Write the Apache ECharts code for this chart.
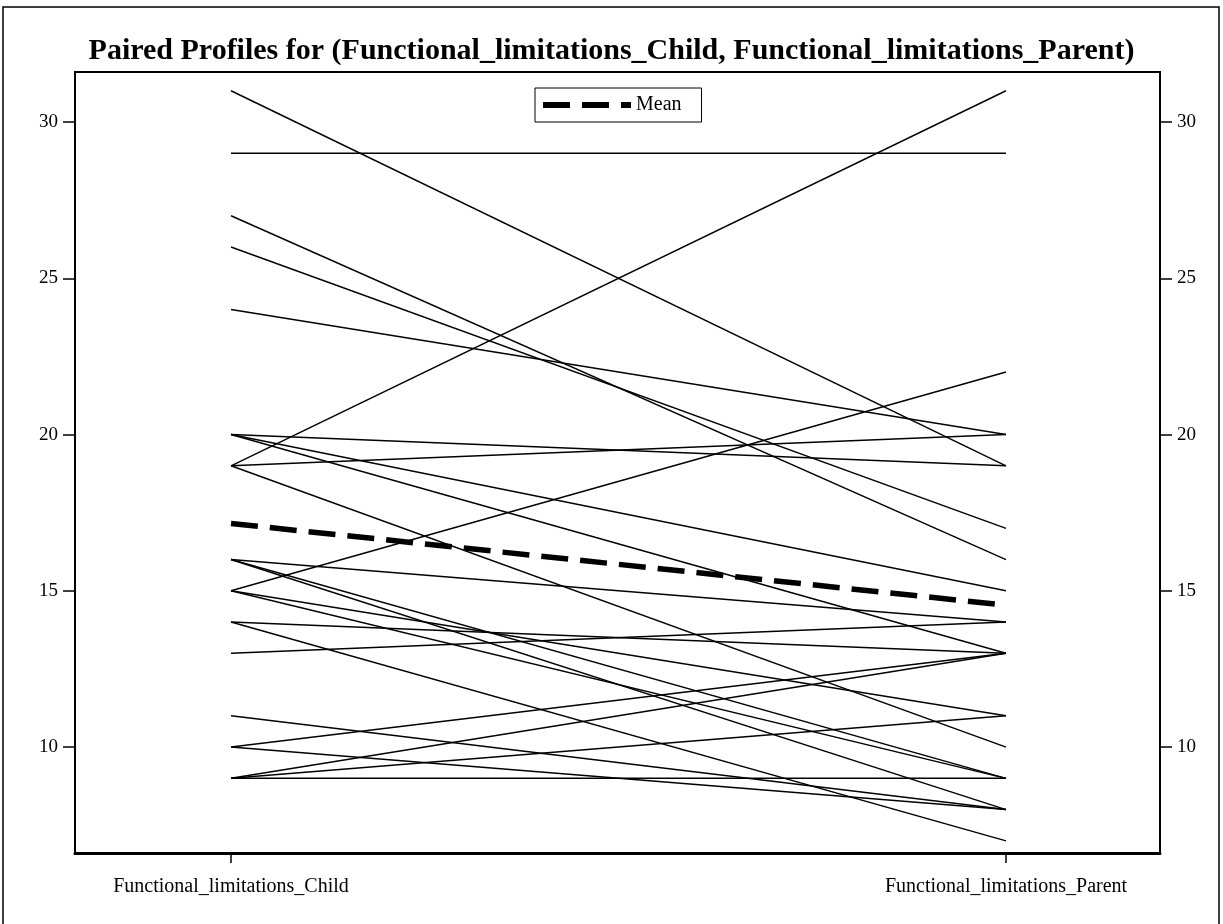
<!DOCTYPE html>
<html>
<head>
<meta charset="utf-8">
<script src="https://cdn.jsdelivr.net/npm/echarts@6/dist/echarts.min.js"></script>
<style>
  html, body { margin: 0; padding: 0; background: #fff; }
  #chart { width: 1223px; height: 924px; }
</style>
</head>
<body>
<div id="chart"></div>
<script>
// x positions 0 / 1 are the two measures
const categories = ['Functional_limitations_Child', 'Functional_limitations_Parent'];
// one entry per subject: child score and parent score
const childValues = [31, 29, 27, 26, 24, 20, 20, 20, 19, 19, 19, 16, 16, 16, 15, 15, 15, 14, 14, 13, 11, 10, 10, 9, 9, 9];
const parentValues = [19, 29, 16, 17, 20, 19, 15, 13, 31, 20, 10, 14, 9, 8, 22, 11, 9, 13, 7, 14, 8, 13, 8, 13, 11, 9];
const yTicks = [10, 15, 20, 25, 30];

const serif = 'Liberation Serif, Times New Roman, serif';

const mean = (arr) => arr.reduce((a, b) => a + b, 0) / arr.length;
const meanChild = mean(childValues);
const meanParent = mean(parentValues);

const profileSeries = childValues.map((c, i) => ({
  name: 'subject' + (i + 1),
  type: 'line',
  yAxisIndex: 0,
  symbol: 'none',
  silent: true,
  z: 2,
  itemStyle: { color: '#000' },
  lineStyle: { color: '#000', width: 1.4 },
  data: [[0, c], [1, parentValues[i]]]
}));

const yAxisBase = {
  type: 'value',
  min: 6.61,
  max: 31.6,
  splitLine: { show: false },
  axisLine: { show: true, onZero: false, lineStyle: { color: '#000', width: 2 } },
  axisTick: {
    show: true,
    customValues: yTicks,
    length: 12,
    lineStyle: { color: '#000', width: 1.5 }
  },
  axisLabel: {
    customValues: yTicks,
    color: '#000',
    fontFamily: serif,
    fontSize: 19,
    margin: 17
  }
};

const chart = echarts.init(document.getElementById('chart'));
chart.setOption({
  animation: false,
  backgroundColor: '#fff',
  title: {
    text: 'Paired Profiles for (Functional_limitations_Child, Functional_limitations_Parent)',
    left: 'center',
    top: 31,
    textStyle: {
      color: '#000',
      fontFamily: serif,
      fontWeight: 'bold',
      fontSize: 30
    }
  },
  legend: {
    data: ['Mean'],
    left: 535,
    top: 88,
    borderColor: '#000',
    borderWidth: 1,
    padding: [7, 20, 7, 8],
    itemWidth: 88,
    itemHeight: 6,
    itemGap: 10,
    itemTextGap: 20,
    icon: 'path://M0,0h27v6h-27z M39,0h27v6h-27z M78,0h10v6h-10z',
    itemStyle: { color: '#000' },
    textStyle: { color: '#000', fontFamily: serif, fontSize: 20 }
  },
  grid: {
    left: 75,
    right: 63,
    top: 72,
    bottom: 71,
    show: true,
    borderColor: '#000',
    borderWidth: 2
  },
  xAxis: {
    type: 'value',
    min: -0.2013,
    max: 1.1987,
    splitLine: { show: false },
    axisLine: { show: true, onZero: false, lineStyle: { color: '#000', width: 3 } },
    axisTick: {
      show: true,
      customValues: [0, 1],
      length: 10,
      lineStyle: { color: '#000', width: 1.5 }
    },
    axisLabel: {
      customValues: [0, 1],
      formatter: (v) => categories[Math.round(v)] ?? '',
      color: '#000',
      fontFamily: serif,
      fontSize: 20,
      margin: 24
    }
  },
  yAxis: [
    { ...yAxisBase, position: 'left' },
    { ...yAxisBase, position: 'right' }
  ],
  series: [
    ...profileSeries,
    {
      name: 'Mean',
      type: 'line',
      yAxisIndex: 0,
      symbol: 'none',
      z: 3,
      itemStyle: { color: '#000' },
      lineStyle: { color: '#000', width: 5.5, type: [27, 12] },
      data: [[0, meanChild], [1, meanParent]]
    }
  ],
  graphic: [
    {
      type: 'rect',
      shape: { x: 3, y: 7, width: 1216, height: 920 },
      style: { fill: 'none', stroke: '#000', lineWidth: 1.5 },
      silent: true
    }
  ]
});
</script>
</body>
</html>
